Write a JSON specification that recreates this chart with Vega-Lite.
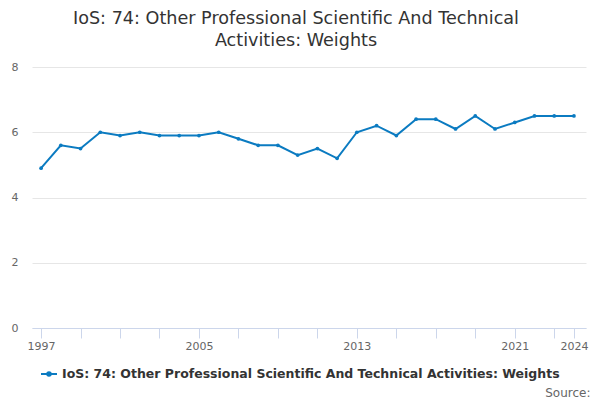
{
  "$schema": "https://vega.github.io/schema/vega-lite/v6.json",
  "width": 554,
  "height": 261,
  "autosize": "none",
  "padding": {"left": 32, "top": 67, "right": 14, "bottom": 72},
  "background": "white",
  "config": {
    "font": "DejaVu Sans",
    "view": {"stroke": null}
  },
  "title": {
    "text": ["IoS: 74: Other Professional Scientific And Technical", "Activities: Weights"],
    "fontSize": 17.6,
    "fontWeight": "normal",
    "color": "#333333",
    "anchor": "middle",
    "dx": -13,
    "offset": 11,
    "lineHeight": 22
  },
  "data": {
    "values": [
      {"year": 1997, "value": 4.9},
      {"year": 1998, "value": 5.6},
      {"year": 1999, "value": 5.5},
      {"year": 2000, "value": 6.0},
      {"year": 2001, "value": 5.9},
      {"year": 2002, "value": 6.0},
      {"year": 2003, "value": 5.9},
      {"year": 2004, "value": 5.9},
      {"year": 2005, "value": 5.9},
      {"year": 2006, "value": 6.0},
      {"year": 2007, "value": 5.8},
      {"year": 2008, "value": 5.6},
      {"year": 2009, "value": 5.6},
      {"year": 2010, "value": 5.3},
      {"year": 2011, "value": 5.5},
      {"year": 2012, "value": 5.2},
      {"year": 2013, "value": 6.0},
      {"year": 2014, "value": 6.2},
      {"year": 2015, "value": 5.9},
      {"year": 2016, "value": 6.4},
      {"year": 2017, "value": 6.4},
      {"year": 2018, "value": 6.1},
      {"year": 2019, "value": 6.5},
      {"year": 2020, "value": 6.1},
      {"year": 2021, "value": 6.3},
      {"year": 2022, "value": 6.5},
      {"year": 2023, "value": 6.5},
      {"year": 2024, "value": 6.5}
    ]
  },
  "mark": {"type": "line", "strokeWidth": 2, "point": {"size": 14, "filled": true}},
  "encoding": {
    "x": {
      "field": "year",
      "type": "quantitative",
      "scale": {"domain": [1996.54, 2024.61], "nice": false, "zero": false},
      "axis": {
        "values": [1997, 1999, 2001, 2003, 2005, 2007, 2009, 2011, 2013, 2015, 2017, 2019, 2021, 2023, 2024],
        "labelExpr": "indexof([1997, 2005, 2013, 2021, 2024], datum.value) >= 0 ? datum.value + '' : ''",
        "grid": false,
        "domainColor": "#ccd6eb",
        "tickColor": "#ccd6eb",
        "tickSize": 10,
        "labelColor": "#666666",
        "labelFontSize": 11,
        "labelPadding": 2,
        "labelOverlap": false,
        "labelFlush": false,
        "title": "Source:",
        "titleFontSize": 12,
        "titleFontWeight": "normal",
        "titleColor": "#666666",
        "titleAnchor": "end",
        "titleAlign": "right",
        "titleBaseline": "alphabetic",
        "titleX": 558,
        "titleY": 68
      }
    },
    "y": {
      "field": "value",
      "type": "quantitative",
      "scale": {"domain": [0, 8], "nice": false},
      "axis": {
        "values": [0, 2, 4, 6, 8],
        "domain": false,
        "ticks": false,
        "gridColor": "#e6e6e6",
        "labelColor": "#666666",
        "labelFontSize": 11,
        "labelPadding": 14,
        "title": null
      }
    },
    "color": {
      "datum": "IoS: 74: Other Professional Scientific And Technical Activities: Weights",
      "scale": {"range": ["#0b7bc1"]},
      "legend": {
        "title": null,
        "orient": "none",
        "legendX": 8,
        "legendY": 298,
        "symbolType": "M-1,0L1,0M-0.22,0A0.22,0.22 0 1,1 0.22,0A0.22,0.22 0 1,1 -0.22,0Z",
        "symbolSize": 256,
        "symbolStrokeWidth": 2,
        "labelFontSize": 12.5,
        "labelFontWeight": "bold",
        "labelColor": "#333333",
        "labelLimit": 0
      }
    }
  }
}
